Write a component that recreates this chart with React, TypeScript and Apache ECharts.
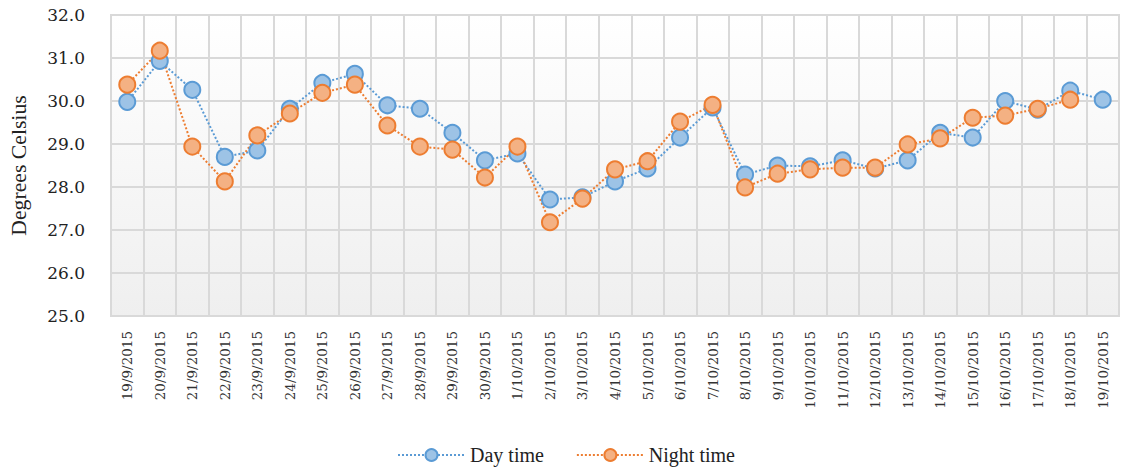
import React, { useEffect, useRef } from "react";
import * as echarts from "echarts";

const categories = [
  "19/9/2015", "20/9/2015", "21/9/2015", "22/9/2015", "23/9/2015", "24/9/2015",
  "25/9/2015", "26/9/2015", "27/9/2015", "28/9/2015", "29/9/2015", "30/9/2015",
  "1/10/2015", "2/10/2015", "3/10/2015", "4/10/2015", "5/10/2015", "6/10/2015",
  "7/10/2015", "8/10/2015", "9/10/2015", "10/10/2015", "11/10/2015", "12/10/2015",
  "13/10/2015", "14/10/2015", "15/10/2015", "16/10/2015", "17/10/2015", "18/10/2015",
  "19/10/2015",
];

const dayTime = [
  29.98, 30.93, 30.26, 28.7, 28.85, 29.82, 30.42, 30.63, 29.9, 29.82, 29.26, 28.62,
  28.78, 27.71, 27.76, 28.13, 28.43, 29.15, 29.85, 28.29, 28.5, 28.48, 28.62, 28.43,
  28.62, 29.26, 29.15, 30.0, 29.8, 30.24, 30.03,
];

const nightTime = [
  30.38, 31.17, 28.94, 28.13, 29.2, 29.71, 30.19, 30.38, 29.43, 28.94, 28.87, 28.22,
  28.94, 27.18, 27.73, 28.41, 28.6, 29.52, 29.91, 27.99, 28.31, 28.41, 28.45, 28.45,
  28.99, 29.13, 29.61, 29.66, 29.82, 30.03, null,
];

const seriesNames = ["Day time", "Night time"];

const SERIF_WIDE = "'DejaVu Serif', serif";
const SERIF = "'Liberation Serif', serif";

export default function App() {
  const ref = useRef<HTMLDivElement>(null);

  useEffect(() => {
    if (!ref.current) return;
    const chart = echarts.init(ref.current, undefined, { renderer: "svg" });
    const grid = "#d9d9d9";
    chart.setOption({
      animation: false,
      backgroundColor: "#ffffff",
      grid: {
        left: 111,
        right: 10,
        top: 15,
        bottom: 157,
        outerBoundsMode: "none",
        containLabel: false,
        show: true,
        borderColor: grid,
        borderWidth: 2,
        backgroundColor: new echarts.graphic.LinearGradient(0, 0, 0, 1, [
          { offset: 0, color: "#ffffff" },
          { offset: 1, color: "#efefef" },
        ]),
      },
      legend: {
        top: 440,
        left: 392,
        itemWidth: 67,
        itemHeight: 15,
        itemGap: 32,
        textStyle: { fontFamily: SERIF, fontSize: 20, color: "#222" },
        data: seriesNames,
      },
      xAxis: {
        type: "category",
        data: categories,
        boundaryGap: true,
        axisLine: { lineStyle: { color: grid, width: 2 } },
        axisTick: { show: false },
        splitLine: { show: true, lineStyle: { color: grid, width: 2 } },
        axisLabel: {
          rotate: 90,
          interval: 0,
          margin: 15,
          fontFamily: SERIF_WIDE,
          fontSize: 13.5,
          color: "#333",
        },
      },
      yAxis: {
        type: "value",
        min: 25,
        max: 32,
        interval: 1,
        name: "Degrees Celsius",
        nameLocation: "middle",
        nameGap: 81,
        nameTextStyle: { fontFamily: SERIF, fontSize: 21.7, color: "#222" },
        axisLine: { show: false },
        axisTick: { show: false },
        splitLine: { lineStyle: { color: grid, width: 2 } },
        axisLabel: {
          formatter: (v: number) => v.toFixed(1),
          fontFamily: SERIF_WIDE,
          fontSize: 17,
          color: "#222",
          margin: 26,
        },
      },
      series: [
        {
          name: seriesNames[0],
          type: "line",
          data: dayTime,
          symbol: "circle",
          symbolSize: 16,
          lineStyle: { color: "#5b9bd5", width: 2, type: "dotted" },
          itemStyle: {
            color: "#9dc3e6",
            borderColor: "#5b9bd5",
            borderWidth: 2,
          },
        },
        {
          name: seriesNames[1],
          type: "line",
          data: nightTime,
          symbol: "circle",
          symbolSize: 16,
          lineStyle: { color: "#ed7d31", width: 2, type: "dotted" },
          itemStyle: {
            color: "#f4b183",
            borderColor: "#ed7d31",
            borderWidth: 2,
          },
        },
      ],
    });
    return () => chart.dispose();
  }, []);

  return (
    <div
      ref={ref}
      style={{ position: "absolute", left: 0, top: 0, width: 1129, height: 473 }}
    />
  );
}
